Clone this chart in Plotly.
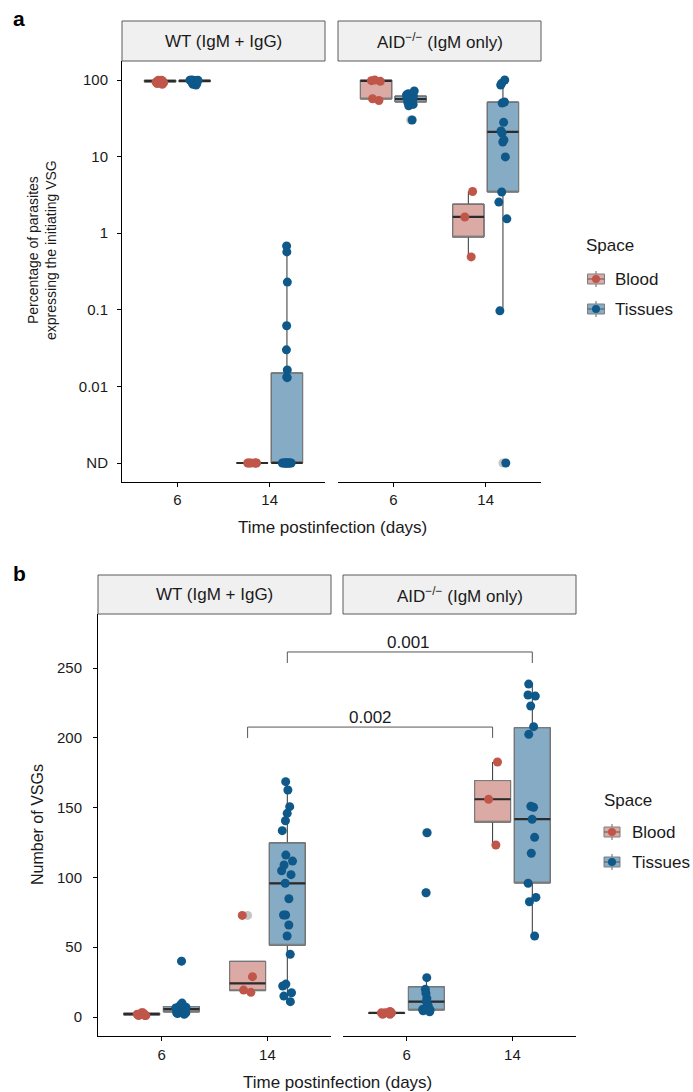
import plotly.graph_objects as go

W, H = 693, 1092
FONT = "Liberation Sans, Arial, Helvetica, sans-serif"

# ------------------------------------------------------------------ data
categories = ["6", "14"]                      # time postinfection (days)
facets = ["WT (IgM + IgG)", "AID<sup>−/−</sup> (IgM only)"]
spaces = ["Blood", "Tissues"]
ND = 0.001                                     # "not detected" plotted at 0.001 %
a_ticks = [100, 10, 1, 0.1, 0.01, ND]
a_ticktext = ["100", "10", "1", "0.1", "0.01", "ND"]
b_ticks = [0, 50, 100, 150, 200, 250]

# Panel a: % parasites expressing the initiating VSG
a_wt_blood_d6 = [99.5, 99, 98, 97, 96, 94, 92, 90, 88]
a_wt_tissue_d6 = [100, 99.5, 99, 99, 98.5, 98, 97, 97, 96, 95, 94, 92, 90, 88, 86]
a_wt_blood_d14 = [ND, ND, ND, ND, ND, ND]
a_wt_tissue_d14 = [0.68, 0.57, 0.23, 0.062, 0.030, 0.0164, 0.0133, 0.013,
                   ND, ND, ND, ND, ND, ND, ND, ND, ND, ND]
a_aid_blood_d6 = [100, 98, 96, 57, 54]
a_aid_tissue_d6 = [72, 66, 64, 62, 61, 60, 58, 57, 56, 55, 54, 52, 51, 48, 46, 30]
a_aid_blood_d14 = [3.5, 1.63, 0.49]
a_aid_tissue_d14 = [100, 91, 86, 51.6, 50, 28, 21.6, 20.3, 16.5, 15.5, 9.9,
                    3.45, 2.55, 1.54, 0.097, ND]

# box statistics: [lower whisker, Q1, median, Q3, upper whisker]
a_wt_blood_d6_box = [88, 94, 97, 99.5, 99.5]
a_wt_tissue_d6_box = [86, 95, 97.5, 99.5, 100]
a_wt_blood_d14_box = [ND, ND, ND, ND, ND]
a_wt_tissue_d14_box = [ND, ND, ND, 0.015, 0.68]
a_aid_blood_d6_box = [54, 56.5, 97, 100, 100]
a_aid_tissue_d6_box = [46, 51.6, 56.5, 61.8, 72]
a_aid_blood_d14_box = [0.49, 0.89, 1.63, 2.4, 3.5]
a_aid_tissue_d14_box = [0.097, 3.45, 21, 51.6, 100]

# Panel b: number of VSGs
b_wt_blood_d6 = [3, 3, 2, 2, 2, 1, 1, 1]
b_wt_tissue_d6 = [40, 10, 9, 8.5, 8, 7.5, 7, 7, 6.5, 6, 6, 5.5, 5, 5, 4.5, 4, 4,
                  3.5, 3, 3, 2.5, 2]
b_wt_blood_d14 = [72.8, 28.9, 19.3, 17.7]
b_wt_tissue_d14 = [168.6, 162.6, 150.7, 145.9, 140.6, 133.5, 116.0, 111.7, 108.9,
                   104.8, 102.0, 95.8, 84.7, 73.1, 73.1, 65.9, 58.0, 44.9, 23.6,
                   22.2, 17.4, 15.0, 11.0]
b_aid_blood_d6 = [4, 3, 3, 3, 2, 2]
b_aid_tissue_d6 = [132.0, 89.0, 28.2, 19.8, 17.0, 13.4, 11.0, 7.9, 5.5, 5.5, 5.0,
                   4.5, 3.8]
b_aid_blood_d14 = [182.7, 156.0, 123.2]
b_aid_tissue_d14 = [238.5, 230.7, 229.9, 222.8, 208.0, 202.5, 151.0, 150.2, 141.6,
                    128.7, 117.3, 95.8, 85.7, 82.6, 58.0]

b_wt_blood_d6_box = [1, 1.5, 2, 2.8, 3]
b_wt_tissue_d6_box = [2, 3.6, 5.7, 7.5, 10]
b_wt_blood_d14_box = [17.7, 18.9, 24.1, 39.9, 39.9]
b_wt_tissue_d14_box = [11.0, 51.4, 95.8, 124.8, 168.6]
b_aid_blood_d6_box = [2, 2.5, 3, 3, 4]
b_aid_tissue_d6_box = [3.8, 5.0, 11.0, 21.7, 28.2]
b_aid_blood_d14_box = [123.2, 139.6, 156.0, 169.4, 182.7]
b_aid_tissue_d14_box = [58.0, 96.0, 141.8, 207.3, 238.5]

# significance brackets (panel b): p-value, height, tick bottom
p_labels = ["0.002", "0.001"]
p_heights = [207.7, 261.5]
p_tick_ends = [199.9, 253.6]

# ------------------------------------------------------------------ style
POINT = {"Blood": "#C0564A", "Tissues": "#0E588A"}
FILL = {"Blood": "#DBAAA5", "Tissues": "#86ABC4"}
BOX_W = 0.34
DODGE = 0.1875
XR = [0.4, 2.6]
A_YR = [-3.248, 2.248]
B_YR = [-13.6, 288.7]


def px(x):
    return x / W


def py(y):
    return 1 - y / H


DOM = {"x": [px(122), px(325)], "x2": [px(338), px(541)],
       "x3": [px(98), px(331)], "x4": [px(343), px(576)]}
a_dom_y = [py(482), py(61)]
b_dom_y = [py(1036), py(614)]

fig = go.Figure()

groups = [
    ("x", "y", 1, "Blood", a_wt_blood_d6, a_wt_blood_d6_box),
    ("x", "y", 1, "Tissues", a_wt_tissue_d6, a_wt_tissue_d6_box),
    ("x", "y", 2, "Blood", a_wt_blood_d14, a_wt_blood_d14_box),
    ("x", "y", 2, "Tissues", a_wt_tissue_d14, a_wt_tissue_d14_box),
    ("x2", "y2", 1, "Blood", a_aid_blood_d6, a_aid_blood_d6_box),
    ("x2", "y2", 1, "Tissues", a_aid_tissue_d6, a_aid_tissue_d6_box),
    ("x2", "y2", 2, "Blood", a_aid_blood_d14, a_aid_blood_d14_box),
    ("x2", "y2", 2, "Tissues", a_aid_tissue_d14, a_aid_tissue_d14_box),
    ("x3", "y3", 1, "Blood", b_wt_blood_d6, b_wt_blood_d6_box),
    ("x3", "y3", 1, "Tissues", b_wt_tissue_d6, b_wt_tissue_d6_box),
    ("x3", "y3", 2, "Blood", b_wt_blood_d14, b_wt_blood_d14_box),
    ("x3", "y3", 2, "Tissues", b_wt_tissue_d14, b_wt_tissue_d14_box),
    ("x4", "y4", 1, "Blood", b_aid_blood_d6, b_aid_blood_d6_box),
    ("x4", "y4", 1, "Tissues", b_aid_tissue_d6, b_aid_tissue_d6_box),
    ("x4", "y4", 2, "Blood", b_aid_blood_d14, b_aid_blood_d14_box),
    ("x4", "y4", 2, "Tissues", b_aid_tissue_d14, b_aid_tissue_d14_box),
]


def pos_of(cat, space):
    return cat + (-DODGE if space == "Blood" else DODGE)


common = dict(showlegend=False, hoverinfo="skip", width=BOX_W, whiskerwidth=0)

# boxes: filled box with dark whiskers, grey outline, thick median
for xa, ya, cat, space, vals, st in groups:
    lo, q1, med, q3, hi = st
    p = pos_of(cat, space)
    fig.add_trace(go.Box(x=[p], q1=[q1], median=[med], q3=[q3], lowerfence=[lo],
                         upperfence=[hi], fillcolor=FILL[space],
                         line=dict(color="#333333", width=1), boxpoints=False,
                         xaxis=xa, yaxis=ya, **common))
    fig.add_trace(go.Box(x=[p], q1=[q1], median=[q1], q3=[q3], lowerfence=[q1],
                         upperfence=[q3], fillcolor="rgba(0,0,0,0)",
                         line=dict(color="#7f7f7f", width=1), boxpoints=False,
                         xaxis=xa, yaxis=ya, **common))
    fig.add_trace(go.Box(x=[p], q1=[med], median=[med], q3=[med], lowerfence=[med],
                         upperfence=[med], fillcolor="rgba(0,0,0,0)",
                         line=dict(color="#2b2b2b", width=2.2), boxpoints=False,
                         xaxis=xa, yaxis=ya, **common))

# outliers (box layer, at the box centre)
for xa, ya, cat, space, vals, st in groups:
    lo, hi = st[0], st[4]
    outs = [v for v in vals if v < lo or v > hi]
    if outs:
        p = pos_of(cat, space)
        fig.add_trace(go.Box(x=[p] * len(outs), y=outs, boxpoints="all", jitter=0,
                             pointpos=0, fillcolor="rgba(0,0,0,0)",
                             line=dict(color="rgba(0,0,0,0)", width=0),
                             marker=dict(color="rgba(110,110,110,0.4)", size=9),
                             xaxis=xa, yaxis=ya, **common))

# jittered points
for xa, ya, cat, space, vals, st in groups:
    p = pos_of(cat, space)
    fig.add_trace(go.Box(x=[p] * len(vals), y=vals, boxpoints="all", jitter=0.35,
                         pointpos=0, fillcolor="rgba(0,0,0,0)",
                         line=dict(color="rgba(0,0,0,0)", width=0),
                         marker=dict(color=POINT[space], size=9),
                         xaxis=xa, yaxis=ya, **common))

# ------------------------------------------------------------------ axes
tickfont = dict(family=FONT, size=15, color="#1a1a1a")
xcommon = dict(range=XR, tickvals=[1, 2], ticktext=categories, ticks="outside",
               ticklen=4, tickcolor="black", showline=True, linecolor="black",
               linewidth=1, showgrid=False, zeroline=False, tickfont=tickfont)

fig.update_layout(
    xaxis=dict(domain=DOM["x"], anchor="y", ticklabelstandoff=0, **xcommon),
    xaxis2=dict(domain=DOM["x2"], anchor="y2", ticklabelstandoff=0, **xcommon),
    xaxis3=dict(domain=DOM["x3"], anchor="y3", ticklabelstandoff=1, **xcommon),
    xaxis4=dict(domain=DOM["x4"], anchor="y4", ticklabelstandoff=1, **xcommon),
    yaxis=dict(domain=a_dom_y, anchor="x", type="log", range=A_YR,
               tickvals=a_ticks, ticktext=a_ticktext, ticks="outside", ticklen=4,
               tickcolor="black", showline=True, linecolor="black", linewidth=1,
               showgrid=False, zeroline=False, tickfont=tickfont, ticklabelstandoff=6),
    yaxis2=dict(domain=a_dom_y, anchor="x2", type="log", range=A_YR,
                showline=False, showticklabels=False, ticks="", showgrid=False,
                zeroline=False),
    yaxis3=dict(domain=b_dom_y, anchor="x3", range=B_YR, tickvals=b_ticks,
                ticks="outside", ticklen=4, tickcolor="black", showline=True,
                linecolor="black", linewidth=1, showgrid=False, zeroline=False,
                tickfont=tickfont, ticklabelstandoff=8),
    yaxis4=dict(domain=b_dom_y, anchor="x4", range=B_YR, showline=False,
                showticklabels=False, ticks="", showgrid=False, zeroline=False),
)

shapes = []
annotations = []

# facet strips
strip_specs = [("x", "y", 40 / 421, facets[0]), ("x2", "y2", 40 / 421, facets[1]),
               ("x3", "y3", 39 / 422, facets[0]), ("x4", "y4", 39 / 422, facets[1])]
for xa, ya, h, label in strip_specs:
    shapes.append(dict(type="rect", xref=f"{xa} domain", yref=f"{ya} domain",
                       x0=0, x1=1, y0=1, y1=1 + h, fillcolor="#F0F0F0",
                       line=dict(color="#5a5a5a", width=1), layer="above"))
    annotations.append(dict(text=label, xref=f"{xa} domain", yref=f"{ya} domain",
                            x=0.5, y=1 + h / 2, showarrow=False, xanchor="center",
                            yanchor="middle",
                            font=dict(family=FONT, size=17, color="#1a1a1a")))


# significance brackets spanning both facets of panel b (paper x, y-domain y)
def x_paper(xa, v):
    d0, d1 = DOM[xa]
    return d0 + (v - XR[0]) / (XR[1] - XR[0]) * (d1 - d0)


def y_frac(v):
    return (v - B_YR[0]) / (B_YR[1] - B_YR[0])


for lab, yh, yt, cat_space, lx in zip(p_labels, p_heights, p_tick_ends,
                                      [(2, "Blood"), (2, "Tissues")], [0.655, 1.018]):
    p = pos_of(*cat_space)
    xl, xr = x_paper("x3", p), x_paper("x4", p)
    shapes.append(dict(type="path", xref="paper", yref="y3 domain",
                       path=f"M {xl},{y_frac(yt)} L {xl},{y_frac(yh)} "
                            f"L {xr},{y_frac(yh)} L {xr},{y_frac(yt)}",
                       line=dict(color="#555555", width=1)))
    annotations.append(dict(text=lab, xref="x4", yref="y4", x=lx, y=yh,
                            yanchor="bottom", xanchor="center", showarrow=False,
                            yshift=-2, font=dict(family=FONT, size=17, color="#1a1a1a")))

# axis titles
title_font = dict(family=FONT, size=17, color="#1a1a1a")
annotations += [
    dict(text="Time postinfection (days)", xref="paper", yref="paper", x=px(332),
         y=py(527), xanchor="center", yanchor="middle", showarrow=False, font=title_font),
    dict(text="Time postinfection (days)", xref="paper", yref="paper", x=px(337),
         y=py(1082), xanchor="center", yanchor="middle", showarrow=False, font=title_font),
    dict(text="Percentage of parasites<br>expressing the initiating VSG", xref="paper",
         yref="paper", x=px(42), y=py(250), xanchor="center", yanchor="middle",
         textangle=-90, showarrow=False, font=dict(family=FONT, size=14, color="#1a1a1a")),
    dict(text="Number of VSGs", xref="paper", yref="paper", x=px(37), y=py(825),
         xanchor="center", yanchor="middle", textangle=-90, showarrow=False,
         font=dict(family=FONT, size=16, color="#1a1a1a")),
    dict(text="<b>a</b>", xref="paper", yref="paper", x=px(11), y=py(18),
         xanchor="left", yanchor="middle", showarrow=False,
         font=dict(family=FONT, size=21, color="black")),
    dict(text="<b>b</b>", xref="paper", yref="paper", x=px(11), y=py(573),
         xanchor="left", yanchor="middle", showarrow=False,
         font=dict(family=FONT, size=21, color="black")),
]


# manual legends ("Space")
def legend(title_x, title_y, key_cx, text_x, rows_y, kw, kh):
    annotations.append(dict(text="Space", xref="paper", yref="paper", x=px(title_x),
                            y=py(title_y), xanchor="left", yanchor="middle",
                            showarrow=False, font=title_font))
    for sp, ry in zip(spaces, rows_y):
        shapes.append(dict(type="line", xref="paper", yref="paper", x0=px(key_cx),
                           x1=px(key_cx), y0=py(ry - kh / 2 - 3), y1=py(ry + kh / 2 + 3),
                           line=dict(color="#666666", width=1)))
        shapes.append(dict(type="rect", xref="paper", yref="paper",
                           x0=px(key_cx - kw / 2), x1=px(key_cx + kw / 2),
                           y0=py(ry + kh / 2), y1=py(ry - kh / 2), fillcolor=FILL[sp],
                           line=dict(color="#7f7f7f", width=1)))
        shapes.append(dict(type="line", xref="paper", yref="paper",
                           x0=px(key_cx - kw / 2), x1=px(key_cx + kw / 2), y0=py(ry),
                           y1=py(ry), line=dict(color="#555555", width=1)))
        shapes.append(dict(type="circle", xref="paper", yref="paper",
                           x0=px(key_cx - 4), x1=px(key_cx + 4), y0=py(ry + 4),
                           y1=py(ry - 4), fillcolor=POINT[sp], line=dict(width=0)))
        annotations.append(dict(text=sp, xref="paper", yref="paper", x=px(text_x),
                                y=py(ry), xanchor="left", yanchor="middle",
                                showarrow=False, font=title_font))


legend(584, 246, 596, 613, [279, 309], 17, 10)
legend(602, 801, 612, 630, [832, 862], 16, 10)

fig.update_layout(
    width=W, height=H, autosize=False,
    margin=dict(l=0, r=0, t=0, b=0),
    paper_bgcolor="white", plot_bgcolor="rgba(0,0,0,0)",
    showlegend=False, boxmode="overlay",
    shapes=shapes, annotations=annotations,
    font=dict(family=FONT, size=14, color="#1a1a1a"),
)

fig.write_html("out.html", config={"displayModeBar": False},
               post_script="document.body.style.margin='0px';"
                           "document.body.style.padding='0px';")
